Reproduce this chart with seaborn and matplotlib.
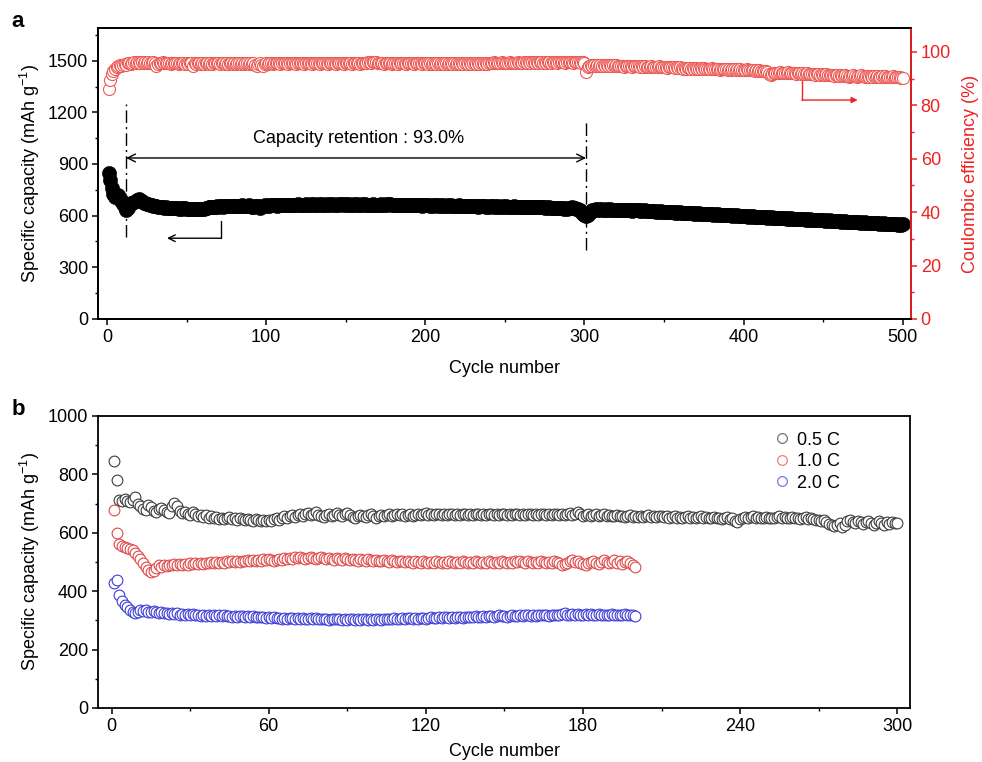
import numpy as np
import pandas as pd
import matplotlib
matplotlib.use("Agg")
import matplotlib.pyplot as plt
from matplotlib.ticker import MultipleLocator
from matplotlib.lines import Line2D
import seaborn as sns

# ---------------- data: panel a ----------------
capacity_a = [
    850, 805, 760, 725, 710, 712, 718, 705, 688, 668, 648, 632, 645, 662, 672, 676, 680, 684, 690, 694,
    690, 684, 676, 672, 668, 666, 662, 660, 658, 655, 654, 652, 650, 652, 648, 646, 648, 645, 644, 646,
    644, 642, 645, 643, 641, 643, 640, 642, 644, 641, 640, 638, 641, 639, 637, 640, 638, 636, 639, 641,
    640, 643, 645, 648, 650, 652, 650, 653, 655, 652, 654, 656, 653, 655, 657, 654, 656, 658, 655, 657,
    656, 658, 655, 657, 659, 656, 654, 657, 659, 656, 652, 648, 655, 658, 656, 642, 650, 657, 660, 658,
    660, 658, 661, 659, 662, 660, 658, 661, 663, 660, 662, 664, 661, 663, 660, 662, 664, 661, 663, 665,
    662, 664, 661, 663, 665, 662, 664, 666, 663, 665, 662, 664, 666, 663, 665, 662, 664, 666, 663, 665,
    663, 665, 662, 664, 666, 663, 665, 667, 664, 666, 663, 665, 662, 664, 666, 663, 665, 662, 664, 666,
    663, 665, 662, 664, 661, 663, 665, 662, 664, 661, 663, 665, 662, 664, 666, 663, 665, 668, 664, 662,
    664, 661, 663, 660, 662, 664, 661, 663, 660, 662, 659, 661, 663, 660, 662, 659, 661, 658, 660, 662,
    659, 661, 658, 660, 657, 659, 661, 658, 660, 657, 659, 656, 658, 660, 657, 659, 656, 658, 655, 657,
    659, 656, 658, 655, 657, 654, 656, 658, 655, 657, 654, 656, 653, 655, 657, 654, 656, 653, 655, 652,
    654, 656, 653, 655, 652, 654, 651, 653, 655, 652, 654, 651, 653, 650, 652, 654, 651, 653, 650, 652,
    649, 651, 653, 650, 652, 649, 651, 648, 650, 652, 649, 651, 648, 650, 647, 649, 646, 648, 645, 647,
    644, 646, 643, 645, 642, 644, 641, 643, 640, 642, 645, 648, 646, 643, 640, 636, 630, 622, 612, 605,
    600, 606, 615, 624, 630, 634, 636, 635, 637, 634, 636, 633, 635, 637, 634, 636, 633, 635, 632, 634,
    631, 633, 635, 632, 634, 631, 633, 630, 632, 629, 631, 633, 630, 632, 629, 631, 628, 630, 627, 629,
    626, 628, 625, 627, 624, 626, 623, 625, 622, 624, 621, 623, 620, 622, 619, 621, 618, 620, 617, 619,
    616, 618, 615, 617, 614, 616, 613, 615, 612, 614, 611, 613, 610, 612, 609, 611, 608, 610, 607, 609,
    606, 608, 605, 607, 604, 606, 603, 605, 602, 604, 601, 603, 600, 602, 599, 601, 598, 600, 597, 599,
    596, 598, 595, 597, 594, 596, 593, 595, 592, 594, 591, 593, 590, 592, 589, 591, 588, 590, 587, 589,
    586, 588, 585, 587, 584, 586, 583, 585, 582, 584, 581, 583, 580, 582, 579, 581, 578, 580, 577, 579,
    576, 578, 575, 577, 574, 576, 573, 575, 572, 574, 571, 573, 570, 572, 569, 571, 568, 570, 567, 569,
    566, 568, 565, 567, 564, 566, 563, 565, 562, 564, 561, 563, 560, 562, 559, 561, 558, 560, 557, 559,
    556, 558, 555, 557, 554, 556, 553, 555, 552, 554, 551, 553, 550, 552, 549, 551, 548, 550, 547, 549,
]
efficiency_a = [
    86.0, 89.5, 91.8, 93.0, 93.6, 94.4, 94.8, 95.2, 94.6, 95.3, 95.6, 95.1, 95.7, 95.9, 95.4, 96.0, 96.2, 95.8, 96.1, 96.3,
    96.0, 96.2, 95.8, 96.1, 95.9, 96.2, 96.0, 95.7, 96.1, 95.9, 94.8, 95.6, 96.0, 95.8, 96.1, 95.9, 95.7, 96.0, 95.8, 95.5,
    95.9, 95.7, 96.0, 95.8, 95.6, 95.9, 95.7, 96.0, 95.5, 95.8, 95.6, 95.9, 95.7, 94.9, 95.8, 95.6, 95.9, 95.7, 95.5, 95.8,
    95.6, 95.9, 95.7, 95.5, 95.8, 95.6, 95.9, 95.7, 96.0, 95.8, 95.6, 95.9, 95.7, 95.5, 95.8, 95.6, 95.9, 95.7, 95.5, 95.8,
    95.6, 95.9, 95.7, 95.5, 95.8, 95.6, 95.9, 95.7, 95.4, 95.8, 95.6, 95.9, 95.2, 94.6, 95.5, 95.7, 95.3, 94.8, 95.6, 95.8,
    95.6, 95.9, 95.7, 95.5, 95.8, 96.0, 95.7, 95.9, 95.6, 95.8, 96.0, 95.7, 95.9, 95.6, 95.8, 96.0, 95.7, 95.9, 95.6, 95.8,
    96.0, 95.7, 95.9, 95.6, 95.8, 96.0, 95.7, 95.9, 95.6, 95.8, 96.0, 95.7, 95.9, 95.6, 95.8, 96.0, 95.7, 95.9, 95.6, 95.8,
    96.0, 95.7, 95.9, 95.6, 95.8, 96.0, 95.7, 95.9, 95.6, 95.8, 96.0, 95.7, 95.9, 95.6, 95.8, 96.0, 95.7, 95.9, 95.6, 95.8,
    96.0, 95.7, 95.9, 96.1, 96.3, 96.0, 96.2, 96.4, 96.1, 95.9, 96.0, 95.7, 95.9, 95.6, 95.8, 96.0, 95.7, 95.9, 95.6, 95.8,
    95.7, 95.9, 95.6, 95.8, 96.0, 95.7, 95.9, 95.6, 95.8, 96.0, 95.7, 95.9, 95.6, 95.8, 96.0, 95.7, 95.9, 95.6, 95.8, 96.0,
    95.7, 95.5, 95.8, 95.6, 95.9, 95.7, 95.5, 95.8, 95.6, 95.9, 95.7, 95.5, 95.8, 95.6, 95.9, 95.7, 95.5, 95.8, 95.6, 95.9,
    95.7, 95.5, 95.8, 95.6, 95.9, 95.7, 95.5, 95.8, 95.6, 95.9, 95.7, 95.5, 95.8, 95.6, 95.9, 95.7, 95.5, 95.8, 95.6, 95.9,
    95.7, 95.9, 96.1, 95.8, 96.0, 95.7, 95.9, 96.1, 95.8, 96.0, 95.7, 95.9, 96.1, 95.8, 96.0, 95.7, 95.9, 96.1, 95.8, 96.0,
    95.9, 96.1, 96.3, 96.0, 96.2, 95.9, 96.1, 96.3, 96.0, 96.2, 95.9, 96.1, 96.3, 96.0, 96.2, 95.9, 96.1, 96.3, 96.0, 96.2,
    96.1, 96.3, 96.0, 96.2, 96.4, 96.1, 96.3, 96.0, 96.2, 96.4, 96.1, 96.3, 96.0, 96.2, 96.4, 96.1, 96.3, 96.0, 96.2, 95.8,
    92.6, 94.2, 94.8, 95.0, 94.7, 95.1, 94.8, 95.0, 94.7, 95.1, 94.8, 95.0, 94.7, 95.1, 94.8, 95.0, 94.7, 95.1, 94.8, 95.0,
    94.7, 94.9, 94.6, 94.8, 94.5, 94.7, 94.9, 94.6, 94.8, 94.5, 94.7, 94.9, 94.6, 94.8, 94.5, 94.7, 94.4, 94.6, 94.3, 94.5,
    94.4, 94.6, 94.3, 94.5, 94.2, 94.4, 94.6, 94.3, 94.5, 94.2, 94.4, 94.1, 94.3, 94.5, 94.2, 94.4, 94.1, 94.3, 94.0, 94.2,
    94.1, 93.8, 94.0, 93.7, 93.9, 94.1, 93.8, 94.0, 93.7, 93.9, 93.6, 93.8, 94.0, 93.7, 93.9, 93.6, 93.8, 93.5, 93.7, 93.9,
    93.6, 93.8, 93.5, 93.7, 93.4, 93.6, 93.8, 93.5, 93.7, 93.4, 93.6, 93.3, 93.5, 93.7, 93.4, 93.6, 93.3, 93.5, 93.2, 93.4,
    93.3, 93.5, 93.2, 93.4, 93.1, 93.3, 93.0, 93.2, 92.9, 93.1, 92.8, 93.0, 92.7, 92.9, 92.6, 91.6, 91.2, 91.8, 92.2, 92.0,
    92.3, 92.1, 92.4, 92.2, 92.0, 92.3, 92.1, 92.4, 92.2, 92.0, 92.3, 92.1, 91.9, 92.2, 92.0, 91.8, 92.1, 91.9, 91.7, 92.0,
    91.8, 91.6, 91.9, 91.7, 91.5, 91.8, 91.6, 91.4, 91.7, 91.5, 91.3, 91.6, 91.4, 91.2, 91.5, 91.3, 91.1, 91.4, 91.2, 91.0,
    91.3, 91.1, 90.9, 91.2, 91.0, 90.8, 91.1, 90.9, 91.2, 91.0, 90.8, 91.1, 90.9, 91.2, 91.0, 90.8, 91.1, 90.9, 90.7, 91.0,
    90.8, 91.0, 90.7, 90.9, 90.6, 90.8, 91.0, 90.7, 90.9, 90.6, 90.8, 90.5, 90.7, 90.9, 90.6, 90.8, 90.5, 90.7, 90.4, 90.2,
]

# ---------------- data: panel b ----------------
rate_labels = ["0.5 C", "1.0 C", "2.0 C"]
capacity_05C = [
    845, 782, 712, 708, 715, 710, 705, 713, 722, 700, 690, 683, 678, 695, 688, 676, 672, 680, 685, 678,
    672, 668, 690, 702, 690, 675, 668, 672, 665, 660, 670, 664, 658, 662, 655, 660, 652, 656, 650, 654,
    648, 652, 646, 650, 655, 648, 652, 645, 650, 647, 643, 648, 645, 641, 646, 643, 640, 644, 641, 645,
    642, 647, 650, 645, 652, 656, 650, 658, 662, 655, 660, 665, 658, 663, 668, 660, 664, 670, 662, 658,
    655, 660, 664, 658, 662, 667, 660, 656, 663, 668, 660, 655, 650, 657, 662, 658, 654, 660, 664, 657,
    652, 658, 662, 656, 660, 664, 658, 662, 666, 660, 663, 658, 661, 665, 659, 662, 666, 660, 663, 667,
    661, 664, 660, 663, 666, 661, 664, 660, 663, 666, 661, 664, 660, 663, 666, 661, 664, 660, 663, 666,
    661, 664, 660, 663, 666, 661, 664, 660, 663, 666, 661, 664, 660, 663, 666, 661, 664, 660, 663, 666,
    661, 664, 660, 663, 666, 661, 664, 660, 663, 666, 661, 664, 660, 663, 668, 661, 664, 672, 663, 658,
    660, 663, 657, 660, 663, 657, 660, 663, 657, 660, 656, 659, 662, 656, 659, 655, 658, 661, 655, 658,
    655, 658, 654, 657, 660, 654, 657, 653, 656, 659, 653, 656, 652, 655, 658, 652, 655, 651, 654, 657,
    651, 654, 650, 653, 656, 650, 653, 649, 652, 655, 649, 652, 648, 651, 654, 648, 651, 640, 636, 648,
    651, 654, 650, 653, 656, 650, 653, 649, 652, 655, 649, 652, 650, 653, 656, 650, 653, 649, 652, 655,
    649, 652, 648, 651, 654, 648, 651, 647, 645, 643, 640, 645, 638, 630, 625, 622, 628, 635, 620, 626,
    640, 645, 638, 632, 640, 636, 630, 638, 642, 635, 628, 634, 640, 632, 626, 636, 630, 638, 632, 634,
]
capacity_10C = [
    678, 598, 560, 556, 552, 548, 545, 540, 532, 522, 510, 498, 484, 472, 464, 468, 480, 488, 484, 490,
    486, 490, 488, 492, 489, 493, 490, 494, 491, 495, 492, 496, 493, 497, 494, 498, 495, 499, 496, 500,
    497, 501, 498, 502, 499, 503, 500, 504, 501, 505, 502, 506, 503, 507, 504, 508, 505, 509, 506, 510,
    507, 505, 508, 510, 506, 512, 509, 514, 511, 516, 512, 518, 514, 510, 512, 516, 512, 509, 513, 516,
    512, 509, 514, 511, 508, 513, 510, 507, 512, 509, 506, 511, 508, 505, 510, 507, 504, 509, 506, 503,
    508, 505, 502, 507, 504, 501, 506, 503, 500, 505, 502, 499, 504, 501, 498, 503, 500, 497, 502, 499,
    496, 501, 498, 502, 499, 496, 501, 498, 502, 499, 496, 501, 498, 502, 499, 496, 501, 498, 502, 499,
    496, 501, 498, 502, 499, 496, 501, 498, 502, 499, 496, 501, 498, 502, 499, 505, 501, 498, 502, 499,
    496, 501, 498, 502, 499, 496, 501, 498, 502, 499, 496, 488, 492, 498, 502, 506, 500, 503, 498, 494,
    490, 496, 500, 505, 498, 494, 500, 506, 500, 495, 500, 506, 498, 504, 494, 500, 505, 496, 490, 482,
]
capacity_20C = [
    428, 437, 386, 365, 352, 345, 335, 328, 325, 330, 334, 332, 336, 330, 327, 332, 328, 325, 328, 324,
    326, 322, 325, 321, 324, 320, 323, 319, 322, 318, 321, 317, 320, 316, 319, 315, 318, 314, 317, 316,
    318, 315, 317, 314, 316, 313, 315, 312, 314, 316, 313, 315, 312, 314, 311, 313, 310, 312, 309, 311,
    308, 310, 307, 309, 306, 308, 305, 307, 309, 306, 308, 305, 307, 304, 306, 308, 305, 307, 304, 306,
    303, 305, 302, 304, 306, 303, 305, 302, 304, 301, 303, 305, 302, 304, 301, 303, 305, 302, 304, 301,
    303, 305, 302, 304, 306, 303, 305, 307, 304, 306, 308, 305, 307, 309, 306, 308, 305, 307, 309, 306,
    308, 310, 307, 309, 311, 308, 310, 312, 309, 311, 308, 310, 312, 309, 311, 313, 310, 312, 314, 311,
    313, 315, 312, 314, 316, 313, 315, 317, 314, 316, 313, 315, 317, 314, 316, 318, 315, 317, 319, 316,
    318, 316, 319, 317, 320, 318, 316, 319, 317, 320, 318, 322, 324, 320, 318, 321, 319, 322, 320, 318,
    321, 319, 322, 320, 318, 321, 319, 317, 320, 318, 321, 319, 317, 320, 318, 321, 319, 317, 320, 316,
]

cycles_a = np.arange(1, len(capacity_a) + 1)

# ---------------- style ----------------
sns.set_style("ticks")
plt.rcParams["font.family"] = ["Liberation Sans", "DejaVu Sans"]
plt.rcParams["mathtext.fontset"] = "custom"
plt.rcParams["mathtext.rm"] = "Liberation Sans"
plt.rcParams["mathtext.it"] = "Liberation Sans:italic"
plt.rcParams["mathtext.default"] = "regular"
for k in ("text.color", "axes.labelcolor", "xtick.color", "ytick.color", "axes.edgecolor"):
    plt.rcParams[k] = "black"
FS = 13
RED = "#ee2222"
MRED = "#ec5a55"

fig = plt.figure(figsize=(9.82, 7.62), dpi=100)
ax1 = fig.add_axes([0.0998, 0.5814, 0.8279, 0.3819])
ax1r = ax1.twinx()
ax2 = fig.add_axes([0.0998, 0.0709, 0.8269, 0.3832])

def style_ax(ax):
    for s in ax.spines.values():
        s.set_linewidth(1.3)
        s.set_color("black")
    ax.tick_params(which="major", direction="out", length=4, width=1.1, labelsize=FS, pad=3,
                   colors="black")
    ax.tick_params(which="minor", direction="out", length=2.5, width=1.0, colors="black")

# ---------------- panel a ----------------
sns.scatterplot(x=cycles_a, y=capacity_a, ax=ax1, color="black", s=105,
                edgecolor="black", linewidth=0.4, zorder=3)
sns.scatterplot(x=cycles_a, y=efficiency_a, ax=ax1r, facecolor="white",
                edgecolor=MRED, s=75, linewidth=0.8, zorder=3)

ax1.set_xlim(-5.65, 505.2)
ax1.set_ylim(0, 1690)
ax1r.set_ylim(0, 109)
ax1.xaxis.set_major_locator(MultipleLocator(100))
ax1.xaxis.set_minor_locator(MultipleLocator(50))
ax1.yaxis.set_major_locator(MultipleLocator(300))
ax1.yaxis.set_minor_locator(MultipleLocator(150))
ax1r.yaxis.set_major_locator(MultipleLocator(20))
ax1r.yaxis.set_minor_locator(MultipleLocator(10))
style_ax(ax1)
style_ax(ax1r)
ax1r.spines["right"].set_color(RED)
ax1r.tick_params(axis="y", which="both", colors=RED, labelcolor=RED)
ax1.set_xlabel("Cycle number", fontsize=FS, labelpad=10)
ax1.set_ylabel("Specific capacity (mAh g$^{-1}$)", fontsize=FS)
ax1r.set_ylabel("Coulombic efficiency (%)", fontsize=FS, color=RED, labelpad=8)

# annotations panel a
dash = dict(color="black", lw=1.0, dashes=(9, 3, 1.5, 3))
ax1.plot([12, 12], [475, 1250], **dash, zorder=4)
ax1.plot([301, 301], [400, 1150], **dash, zorder=4)
ax1.annotate("", xy=(12, 935), xytext=(301, 935),
             arrowprops=dict(arrowstyle="<->", color="black", lw=1.0,
                             shrinkA=0, shrinkB=0, mutation_scale=14))
ax1.text(158, 1048, "Capacity retention : 93.0%", ha="center", va="center", fontsize=FS)
ax1.plot([71.6, 71.6], [567, 469], color="black", lw=1.0)
ax1.annotate("", xy=(37.7, 469), xytext=(71.6, 469),
             arrowprops=dict(arrowstyle="->", color="black", lw=1.0,
                             shrinkA=0, shrinkB=0, mutation_scale=12))
ax1r.plot([436.6, 436.6], [89.1, 82.0], color=RED, lw=1.0)
ax1r.annotate("", xy=(471.7, 82.0), xytext=(436.6, 82.0),
              arrowprops=dict(arrowstyle="-|>", color=RED, lw=1.0,
                              shrinkA=0, shrinkB=0, mutation_scale=9))

# ---------------- panel b ----------------
df_b = pd.concat([
    pd.DataFrame({"cycle": np.arange(1, len(capacity_05C) + 1), "capacity": capacity_05C, "rate": rate_labels[0]}),
    pd.DataFrame({"cycle": np.arange(1, len(capacity_10C) + 1), "capacity": capacity_10C, "rate": rate_labels[1]}),
    pd.DataFrame({"cycle": np.arange(1, len(capacity_20C) + 1), "capacity": capacity_20C, "rate": rate_labels[2]}),
], ignore_index=True)
colors_b = {"0.5 C": "#3c3c3c", "1.0 C": "#e04848", "2.0 C": "#3c3cd8"}
for lab in rate_labels:
    sub = df_b[df_b["rate"] == lab]
    sns.scatterplot(data=sub, x="cycle", y="capacity", ax=ax2, facecolor="white",
                    edgecolor=colors_b[lab], s=60, linewidth=0.8, zorder=3)

ax2.set_xlim(-5.2, 304.9)
ax2.set_ylim(0, 1000)
ax2.xaxis.set_major_locator(MultipleLocator(60))
ax2.xaxis.set_minor_locator(MultipleLocator(30))
ax2.yaxis.set_major_locator(MultipleLocator(200))
ax2.yaxis.set_minor_locator(MultipleLocator(100))
style_ax(ax2)
ax2.set_xlabel("Cycle number", fontsize=FS, labelpad=6)
ax2.set_ylabel("Specific capacity (mAh g$^{-1}$)", fontsize=FS)

handles = [Line2D([], [], ls="none", marker="o", markersize=7, mfc="white",
                  mec=colors_b[lab], mew=0.9, alpha=0.7) for lab in rate_labels]
ax2.legend(handles, rate_labels, loc="upper left", bbox_to_anchor=(0.818, 0.99),
           frameon=False, fontsize=FS, handlelength=0.8, handletextpad=0.45,
           labelspacing=0.25, borderpad=0.2)

for ax in (ax1, ax2):
    ax.yaxis.set_label_coords(-0.069, 0.5)

fig.text(0.012, 0.972, "a", fontsize=16, fontweight="bold", va="center", ha="left")
fig.text(0.012, 0.463, "b", fontsize=16, fontweight="bold", va="center", ha="left")

fig.savefig("out.png", dpi=100)
